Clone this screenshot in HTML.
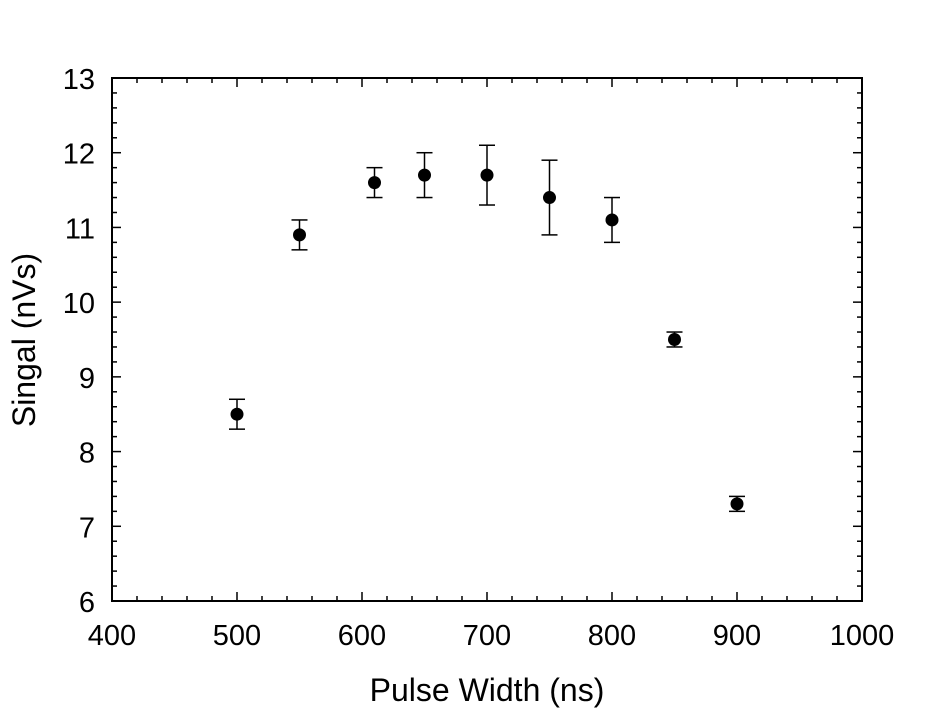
<!DOCTYPE html>
<html><head><meta charset="utf-8"><style>body{margin:0;background:#fff}</style></head>
<body>
<svg id="s" width="940" height="714" xmlns="http://www.w3.org/2000/svg" font-family="Liberation Sans, Arial, sans-serif">
<rect x="0" y="0" width="940" height="714" fill="#fff"/>
<g id="g"></g>
<text x="487" y="701" font-size="32" text-anchor="middle">Pulse Width (ns)</text>
<text transform="translate(35,340) rotate(-90)" font-size="32" text-anchor="middle">Singal (nVs)</text>
</svg>
<script>
const L=112,R=862,T=78,B=601;
const X=v=>L+(v-400)*1.25, Y=v=>B-(v-6)*(B-T)/7;
let h=`<rect x="${L}" y="${T}" width="${R-L}" height="${B-T}" fill="none" stroke="#000" stroke-width="2"/>`;
for(let v=400;v<=1000;v+=20){const x=X(v),m=v%100==0,l=m?9:5;
 h+=`<line x1="${x}" y1="${B}" x2="${x}" y2="${B-l}" stroke="#000" stroke-width="1.5"/><line x1="${x}" y1="${T}" x2="${x}" y2="${T+l}" stroke="#000" stroke-width="1.5"/>`;
 if(m)h+=`<text x="${x}" y="${B+44}" font-size="29" text-anchor="middle">${v}</text>`;}
for(let i=0;i<=35;i++){const v=6+i*0.2,y=Y(v),m=i%5==0,l=m?9:5;
 h+=`<line x1="${L}" y1="${y}" x2="${L+l}" y2="${y}" stroke="#000" stroke-width="1.5"/><line x1="${R}" y1="${y}" x2="${R-l}" y2="${y}" stroke="#000" stroke-width="1.5"/>`;
 if(m)h+=`<text x="${L-17}" y="${y+11}" font-size="29" text-anchor="end">${Math.round(v)}</text>`;}
const d=[[500,8.5,0.2],[550,10.9,0.2],[610,11.6,0.2],[650,11.7,0.3],[700,11.7,0.4],[750,11.4,0.5],[800,11.1,0.3],[850,9.5,0.1],[900,7.3,0.1]];
for(const[a,b,e]of d){const x=X(a),y1=Y(b+e),y2=Y(b-e);
 h+=`<line x1="${x}" y1="${y1}" x2="${x}" y2="${y2}" stroke="#000" stroke-width="1.5"/><line x1="${x-8}" y1="${y1}" x2="${x+8}" y2="${y1}" stroke="#000" stroke-width="1.5"/><line x1="${x-8}" y1="${y2}" x2="${x+8}" y2="${y2}" stroke="#000" stroke-width="1.5"/><circle cx="${x}" cy="${Y(b)}" r="6.5" fill="#000"/>`;}
document.getElementById('g').innerHTML=h;
</script>
</body></html>
